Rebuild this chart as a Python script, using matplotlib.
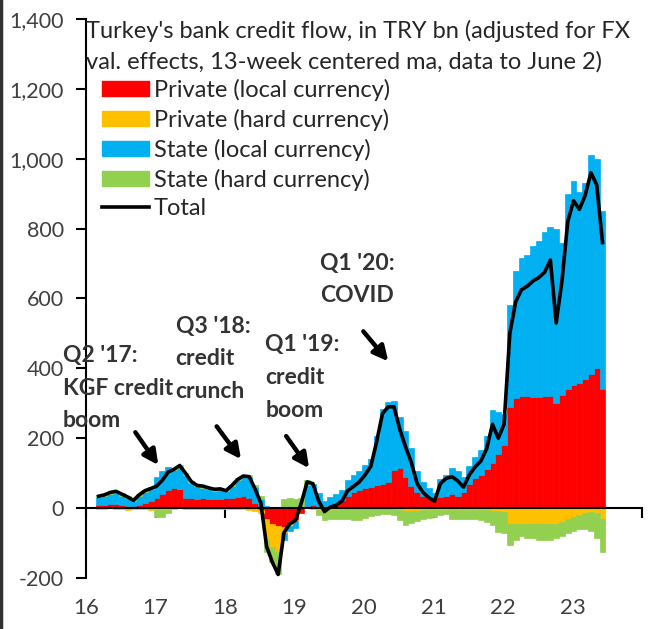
import numpy as np
import matplotlib
matplotlib.use("Agg")
import matplotlib.pyplot as plt
from matplotlib.patches import Patch
from matplotlib.lines import Line2D

plt.rcParams['font.family'] = ['Lato', 'DejaVu Sans']

# monthly readings, first month starts early 2016 (x in years, "16" = 2016)
x_start = 16.14
step = 1 / 12

private_local = [10, 10, 12, 12, 8, 6, 5, 10, 15, 20,
                 28, 40, 52, 57, 55, 30, 28, 26, 28, 25, 26, 25,
                 28, 30, 33, 36, 30, 15, -5, -30, -45, -50, -55, -45,
                 -35, -15, 5, 10, 3, -3, 2, 10, 22, 35, 45, 52,
                 58, 60, 66, 70, 75, 108, 116, 90, 63, 45, 36, 32,
                 28, 33, 36, 40, 35, 45, 70, 85, 95, 112, 130, 155,
                 180, 290, 315, 320, 320, 318, 318, 320, 322, 300, 325, 340,
                 352, 358, 370, 385, 400, 340]
private_hard = [-3, -2, -1, -2, -3, -4, -3, -2, -3, -5,
                -5, -6, -4, -2, 0, -2, -2, -3, -2, -2, -2, -2,
                -2, -2, -3, -3, -5, -8, -10, -60, -65, -75, -15, -5,
                -2, 0, 0, -2, -5, -5, -5, -5, -3, -3, -3, -3,
                -2, -2, -2, -2, -2, -3, -5, -8, -8, -8, -6, -5,
                -5, -5, -5, -6, -6, -5, -5, -5, -5, -5, -8, -8,
                -10, -45, -45, -45, -45, -45, -45, -45, -45, -45, -40, -30,
                -25, -20, -15, -10, -15, -30]
state_local = [22, 25, 28, 30, 28, 24, 16, 24, 30, 34,
               60, 66, 65, 51, 59, 64, 45, 37, 31, 29, 24, 26,
               22, 34, 48, 55, 60, 45, 25, 5, 0, 0, -20, -15,
               -20, 5, 60, 60, 40, 20, 30, 30, 30, 45, 50, 55,
               65, 80, 140, 215, 230, 200, 145, 130, 110, 60, 40, 25,
               15, 50, 60, 75, 70, 45, 50, 60, 70, 95, 150, 120,
               90, 290, 365, 395, 405, 432, 447, 470, 483, 500, 435, 560,
               583, 547, 560, 625, 600, 510]
state_hard = [5, 5, 6, 6, 6, 5, 3, 5, 6, 6,
              -20, -20, -10, 5, 8, 6, 5, 5, 4, 4, 4, 4,
              3, 3, 4, 4, 5, 5, 10, -35, -45, -65, 25, 30,
              25, 25, 15, 0, -15, -25, -25, -25, -28, -28, -30, -30,
              -25, -20, -18, -15, -15, -18, -30, -40, -35, -30, -25, -22,
              -20, -15, -12, -25, -25, -25, -25, -25, -30, -35, -40, -60,
              -60, -60, -45, -35, -40, -40, -45, -45, -45, -40, -40, -40,
              -40, -40, -45, -55, -70, -95]
total = [34, 38, 45, 48, 40, 32, 22, 38, 50, 56,
         63, 80, 103, 111, 122, 100, 76, 65, 63, 58, 54, 55,
         50, 65, 82, 92, 90, 55, 15, -110, -155, -190, -70, -45,
         -35, 15, 75, 70, 20, -10, 3, 8, 20, 50, 62, 75,
         95, 120, 190, 270, 290, 290, 225, 175, 130, 70, 45, 30,
         20, 70, 85, 90, 78, 60, 95, 118, 135, 170, 240, 200,
         240, 500, 590, 625, 635, 650, 660, 675, 710, 530, 650, 820,
         880, 855, 895, 960, 925, 760]

names = ['Private (local currency)', 'Private (hard currency)',
         'State (local currency)', 'State (hard currency)']
colors = ['#FF0000', '#FFC000', '#00B0F0', '#92D050']

y_ticks = [-200, 0, 200, 400, 600, 800, 1000, 1200, 1400]
y_labels = ['-200', '0', '200', '400', '600', '800', '1,000', '1,200', '1,400']
x_ticks = [16, 17, 18, 19, 20, 21, 22, 23, 24]
x_labels = ['16', '17', '18', '19', '20', '21', '22', '23', '']

n = len(total)
x = x_start + step * np.arange(n)

fig = plt.figure(figsize=(6.7, 6.29), dpi=100)
ax = fig.add_axes([0.1284, 0.0811, 0.8298, 0.8887])

pos = np.zeros(n)
neg = np.zeros(n)
for vals, color in zip([private_local, private_hard, state_local, state_hard], colors):
    v = np.array(vals, dtype=float)
    bottom = np.where(v >= 0, pos, neg)
    ax.bar(x, v, width=step, bottom=bottom, align='edge', color=color,
           edgecolor=color, linewidth=0.5, zorder=2)
    pos += np.clip(v, 0, None)
    neg += np.clip(v, None, 0)

ax.plot(x + step / 2, total, color='black', lw=2.6, zorder=3)

ax.set_xlim(16, 24)
ax.set_ylim(-200, 1400)
ax.set_yticks(y_ticks)
ax.set_yticklabels(y_labels)
ax.set_xticks(x_ticks)
ax.set_xticklabels(x_labels)

for s in ['top', 'right']:
    ax.spines[s].set_visible(False)
ax.spines['bottom'].set_position(('data', 0))
ax.spines['bottom'].set_linewidth(1.5)
ax.spines['left'].set_linewidth(1.5)
ax.spines['bottom'].set_zorder(4)
ax.tick_params(axis='y', length=7, width=1.5, pad=9, labelsize=15.5, labelcolor='#404040')
ax.tick_params(axis='x', length=7, width=1.5, pad=58, labelsize=16, labelcolor='#404040')

ax.text(0.0, 0.999, "Turkey's bank credit flow, in TRY bn (adjusted for FX\nval. effects, 13-week centered ma, data to June 2)",
        transform=ax.transAxes, ha='left', va='top', fontsize=17,
        color='#262626', linespacing=1.55)

handles = [Patch(facecolor=c, edgecolor=c) for c in colors]
handles.append(Line2D([], [], color='black', lw=2.6))
ax.legend(handles, names + ['Total'], loc='upper left', bbox_to_anchor=(0.028, 0.893),
          frameon=False, fontsize=17, handlelength=2.0, handleheight=0.62,
          handletextpad=0.2, labelspacing=0.33, borderpad=0, borderaxespad=0,
          labelcolor='#262626')

notes = [("Q2 '17:\nKGF credit\nboom", 15.67, 466),
         ("Q3 '18:\ncredit\ncrunch", 17.29, 551),
         ("Q1 '19:\ncredit\nboom", 18.58, 497),
         ("Q1 '20:\nCOVID", 19.37, 731)]
for txt, tx, ty in notes:
    ax.text(tx, ty, txt, ha='left', va='top', fontsize=16.5, fontweight='bold',
            color='#333333', linespacing=1.68, zorder=5, clip_on=False)

arrows = [((16.71, 217), (17.04, 123)),
          ((17.88, 234), (18.23, 140)),
          ((18.88, 206), (19.21, 114)),
          ((19.99, 506), (20.35, 420))]
for tail, tip in arrows:
    ax.annotate('', xy=tip, xytext=tail,
                arrowprops=dict(arrowstyle='-|>', lw=3.2, color='black',
                                mutation_scale=22, shrinkA=0, shrinkB=0))

fig.add_artist(Line2D([0.002, 0.002], [0, 1], transform=fig.transFigure,
                      color='#303030', lw=2.5))

fig.savefig('out.png', dpi=100)
